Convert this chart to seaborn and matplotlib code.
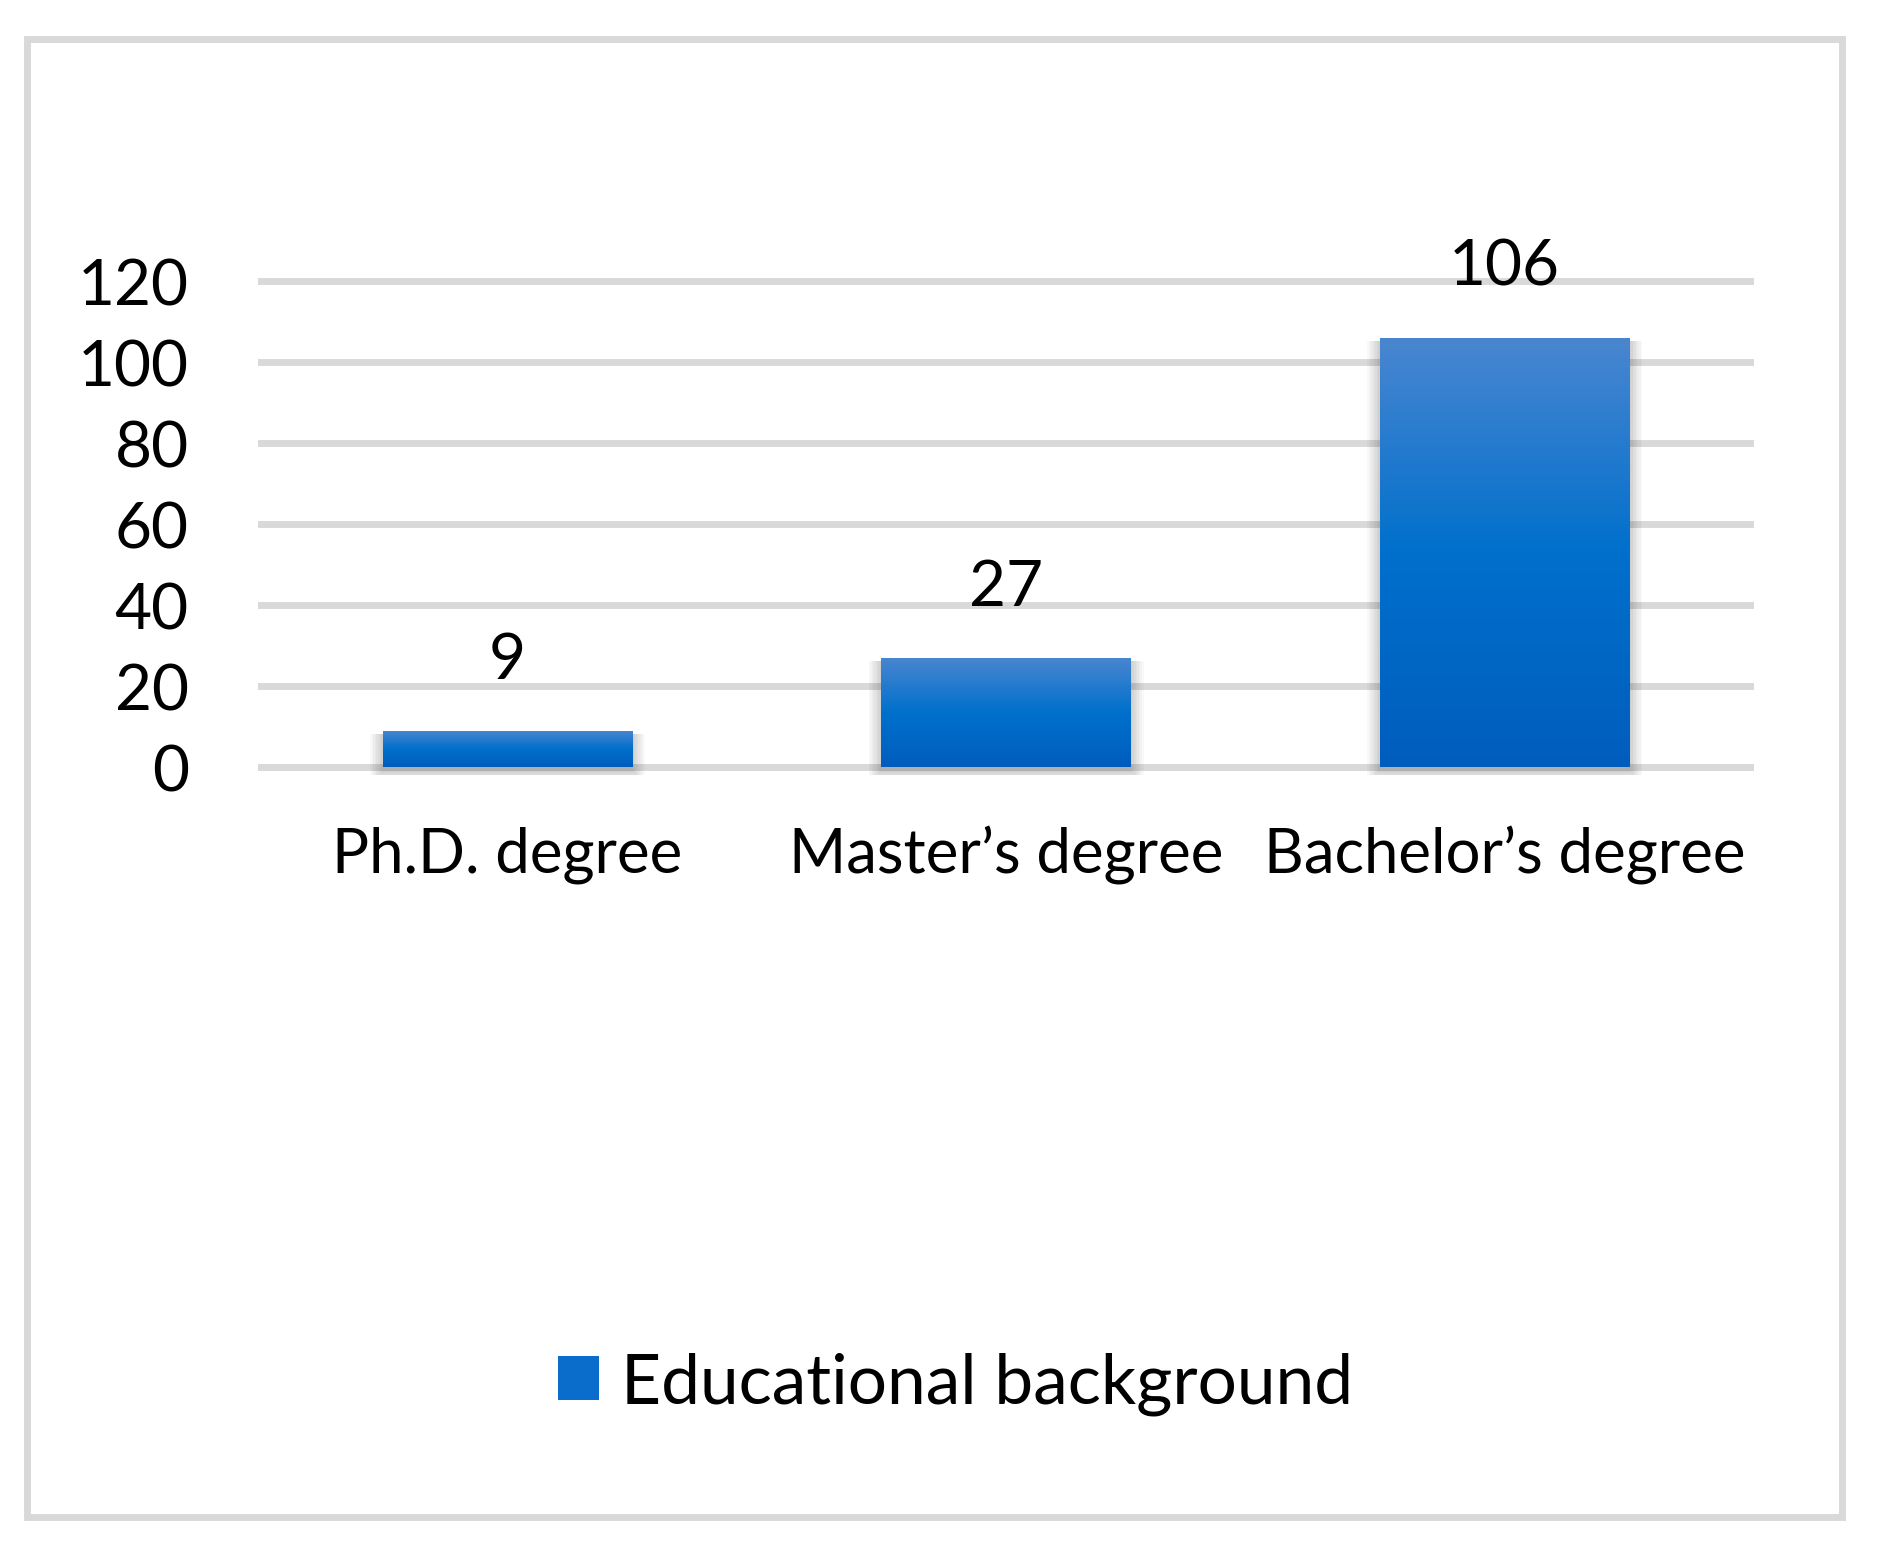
import numpy as np
import matplotlib
matplotlib.use("Agg")
import matplotlib.pyplot as plt
from matplotlib.colors import LinearSegmentedColormap
from matplotlib.patches import Rectangle, Patch
import seaborn as sns

# data
categories = ["Ph.D. degree", "Master\u2019s degree", "Bachelor\u2019s degree"]
counts = [9, 27, 106]
series_name = "Educational background"
yticks = [0, 20, 40, 60, 80, 100, 120]

sns.set_theme(style="white")
plt.rcParams['font.family'] = ['Lato', 'DejaVu Sans']

fig = plt.figure(figsize=(18.81, 15.539), dpi=100)
ax = fig.add_axes([0.1372, 0.5006, 0.7953, 0.3232])

sns.barplot(x=categories, y=counts, ax=ax, width=0.5, color="#0a6ccb",
            edgecolor="none", zorder=3)

ax.set_xlim(-0.5, 2.5)
ax.set_ylim(-2, 122)
ax.set_yticks(yticks)
ax.yaxis.grid(True, color="#d9d9d9", linewidth=5, zorder=0)
ax.xaxis.grid(False)
for s in ax.spines.values():
    s.set_visible(False)
ax.tick_params(axis="y", length=0, pad=50, labelsize=46, labelcolor="black")
ax.tick_params(axis="x", length=0, pad=36, labelsize=44.5, labelcolor="black")
ax.set_xlabel("")
ax.set_ylabel("")

# gradient fill + soft shadow
grad = LinearSegmentedColormap.from_list(
    "bar", [(0.0, "#005dbd"), (0.5, "#0070cc"), (1.0, "#4a86d0")])
gvals = np.linspace(0, 1, 256).reshape(-1, 1)
px_x = 1496 / 3.0
px_y = 502.2 / 124.0
for p in ax.patches:
    x0, y0 = p.get_x(), p.get_y()
    w, h = p.get_width(), p.get_height()
    for i in range(1, 9):
        dx = i * 1.6 / px_x
        dy = i * 1.6 / px_y
        ax.add_patch(Rectangle((x0 - dx, y0 - dy - 3 / px_y), w + 2 * dx, h + dy,
                               facecolor="black", alpha=0.025, edgecolor="none",
                               zorder=2))
    im = ax.imshow(gvals, cmap=grad, aspect="auto", origin="lower",
                   extent=[x0, x0 + w, y0, y0 + h], zorder=3.5)
    im.set_clip_path(p)
    ax.annotate(str(int(round(h))), (x0 + w / 2, y0 + h), xytext=(0, 38),
                textcoords="offset points", ha="center", va="baseline",
                fontsize=46, color="black")

ax.set_xlim(-0.5, 2.5)
ax.set_ylim(-2, 122)

fig.legend(handles=[Patch(facecolor="#0a6ccb", edgecolor="none", label=series_name)],
           loc="center", bbox_to_anchor=(0.508, 0.109), frameon=False,
           fontsize=50, labelcolor="black",
           handlelength=0.6, handleheight=0.6, handletextpad=0.32)

# outer border
fig.patches.append(Rectangle((27.5 / 1881, 1 - 1517.5 / 1554),
                             (1842.5 - 27.5) / 1881, (1517.5 - 39.5) / 1554,
                             transform=fig.transFigure, fill=False,
                             edgecolor="#d9d9d9", linewidth=5))

fig.savefig("out.png", dpi=100, facecolor="white")
